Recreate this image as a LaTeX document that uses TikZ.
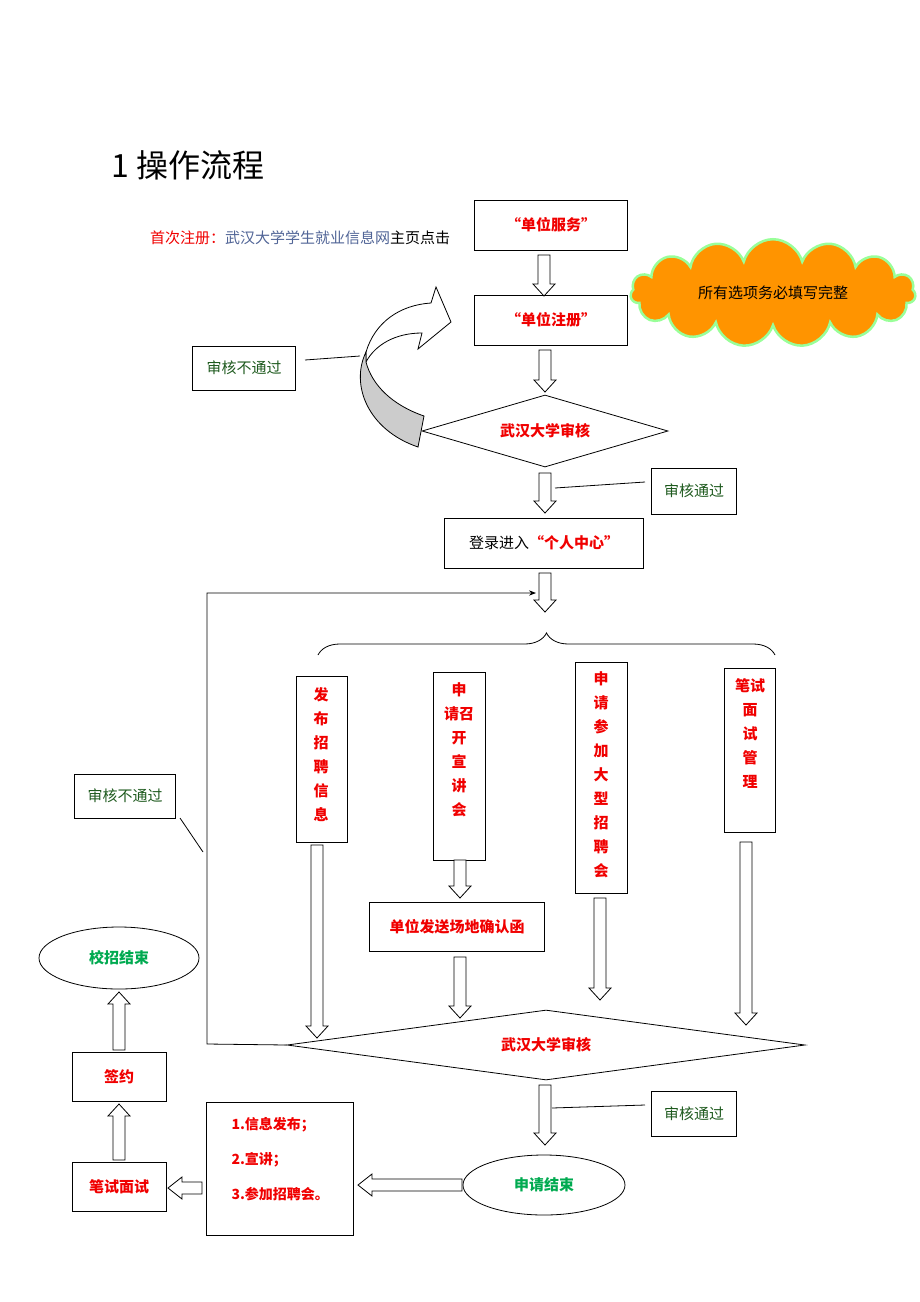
\documentclass[tikz,border=0pt]{standalone}
\usepackage{fontspec}
\setmainfont{Noto Sans CJK SC}
\usetikzlibrary{shapes.geometric,shapes.symbols,decorations.pathreplacing,arrows.meta}
\definecolor{rd}{RGB}{240,0,0}
\definecolor{gr}{RGB}{30,90,30}
\definecolor{bg}{RGB}{0,170,80}
\definecolor{bl}{RGB}{80,100,150}
\newcommand\hdown[3]{\draw[line width=0.8pt,fill=white] (#1-6,#2)--(#1+6,#2)--(#1+6,#3-12)--(#1+11,#3-12)--(#1,#3)--(#1-11,#3-12)--(#1-6,#3-12)--cycle;}
\newcommand\hup[3]{\draw[line width=0.8pt,fill=white] (#1-6,#2)--(#1+6,#2)--(#1+6,#3+12)--(#1+11,#3+12)--(#1,#3)--(#1-11,#3+12)--(#1-6,#3+12)--cycle;}
\newcommand\hleft[3]{\draw[line width=0.8pt,fill=white] (#2,#1-6)--(#2,#1+6)--(#3+14,#1+6)--(#3+14,#1+11)--(#3,#1)--(#3+14,#1-11)--(#3+14,#1-6)--cycle;}
\begin{document}
\begin{tikzpicture}[x=1pt,y=-1pt,
 bx/.style={draw,line width=0.8pt,minimum width=#1,inner sep=2pt},
 t/.style={font=\fontsize{15}{18}\selectfont},
 rb/.style={t,text=rd,font=\fontsize{15}{18}\selectfont\bfseries},
 vb/.style={draw,line width=0.8pt,align=center,text=rd,font=\fontsize{15}{24}\selectfont\bfseries,anchor=north west,inner sep=0pt}]
\useasboundingbox (0,0) rectangle (920,1302);
\node[anchor=west,font=\fontsize{32}{36}\selectfont] (title) at (108,165) {1\ 操作流程};
\node[anchor=west,t,inner sep=0pt] (first) at (150,238) {\textcolor{rd}{首次注册：}\textcolor{bl}{武汉大学学生就业信息网}主页点击};
\node[draw,line width=0.8pt,minimum width=153,minimum height=50,rb] (fw) at (551,225) {“单位服务”};
\node[draw,line width=0.8pt,minimum width=153,minimum height=50,rb] (zc) at (551,320) {“单位注册”};
\node[cloud,cloud puffs=15,aspect=3,draw=green!40!white,line width=2.5pt,fill=orange!80!red!70!yellow,minimum width=285,minimum height=85,t] (cloud) at (773,293) {所有选项务必填写完整};
\node[diamond,draw,line width=0.8pt,aspect=3.4,minimum width=246,minimum height=72,inner sep=0pt,rb] (sh1) at (545,431) {武汉大学审核};
\hdown{544}{255}{296}
\hdown{545}{350}{392}
% curved arrow
\draw[line width=0.8pt,fill=white] (366,352) .. controls (375,322) and (400,305) .. (431,303) -- (436,287) -- (451,322) -- (418,349) -- (422,333) .. controls (395,333) and (375,345) .. (366,362) -- cycle;
\draw[line width=0.8pt,fill=gray!40] (366,352) .. controls (350,385) and (368,430) .. (418,447) -- (424,416) .. controls (392,405) and (372,385) .. (366,362) -- cycle;
\node[draw,line width=0.8pt,minimum width=103,minimum height=44,t,text=gr] (bt1) at (244,368) {审核不通过};
\draw[line width=0.8pt] (305,360) -- (360,356);
\hdown{545}{473}{513}
\node[draw,line width=0.8pt,minimum width=85,minimum height=46,t,text=gr] (tg1) at (694,491) {审核通过};
\draw[line width=0.8pt] (555,488) -- (645,482);
\node[draw,line width=0.8pt,minimum width=199,minimum height=50,t] (dl) at (544,543) {登录进入\textcolor{rd}{\bfseries“个人中心”}};
\hdown{545}{573}{612}
\coordinate (bl) at (318,655); \coordinate (br) at (775,655);
\draw[line width=0.8pt,decorate,decoration={brace,amplitude=22pt}] (bl) -- (br);
\node[vb,minimum width=51,minimum height=166] (fb) at (296,676) {};
\node[rb,align=center,font=\fontsize{15}{24}\selectfont\bfseries,anchor=north] at (321,684) {发\\布\\招\\聘\\信\\息};
\node[vb,minimum width=52,minimum height=188] (xj) at (433,672) {};
\node[rb,align=center,font=\fontsize{15}{24}\selectfont\bfseries,anchor=north] at (459,679) {申\\请召\\开\\宣\\讲\\会};
\node[vb,minimum width=52,minimum height=231] (zp) at (575,662) {};
\node[rb,align=center,font=\fontsize{15}{24}\selectfont\bfseries,anchor=north] at (601,668) {申\\请\\参\\加\\大\\型\\招\\聘\\会};
\node[vb,minimum width=51,minimum height=164] (bs) at (724,668) {};
\node[rb,align=center,font=\fontsize{15}{24}\selectfont\bfseries,anchor=north] at (750,675) {笔试\\面\\试\\管\\理};
\hdown{317}{845}{1038}
\hdown{460}{860}{898}
\node[draw,line width=0.8pt,minimum width=175,minimum height=49,rb] (cd) at (457,927) {单位发送场地确认函};
\hdown{460}{957}{1018}
\hdown{600}{898}{1000}
\hdown{746}{842}{1025}
\node[diamond,draw,line width=0.8pt,aspect=7.4,minimum width=518,minimum height=70,inner sep=0pt,rb] (sh2) at (546,1045) {武汉大学审核};
\coordinate (lp1) at (207,1044); \coordinate (lp2) at (207,593); \coordinate (lp3) at (536,593);
\draw[line width=0.8pt,-{Stealth[length=7pt]}] (sh2.west) -- (lp1) -- (lp2) -- (lp3);
\node[draw,line width=0.8pt,minimum width=101,minimum height=44,t,text=gr] (bt2) at (125,796) {审核不通过};
\draw[line width=0.8pt] (180,818) -- (203,852);
\hdown{545}{1085}{1145}
\node[draw,line width=0.8pt,minimum width=85,minimum height=45,t,text=gr] (tg2) at (694,1114) {审核通过};
\draw[line width=0.8pt] (552,1108) -- (645,1105);
\node[ellipse,draw,line width=0.8pt,minimum width=162,minimum height=60,rb,text=bg] (js) at (544,1185) {申请结束};
\hleft{1185}{462}{358}
\node[draw,line width=0.8pt,minimum width=147,minimum height=133,anchor=north west] (lst) at (206,1102) {};
\node[anchor=north west,rb,align=left,font=\fontsize{14}{35}\selectfont\bfseries] at (228,1114) {1.信息发布；\\2.宣讲；\\3.参加招聘会。};
\hleft{1188}{202}{168}
\node[draw,line width=0.8pt,minimum width=94,minimum height=49,rb] (ms) at (119,1187) {笔试面试};
\hup{119}{1160}{1104}
\node[draw,line width=0.8pt,minimum width=94,minimum height=49,rb] (qy) at (119,1077) {签约};
\hup{119}{1050}{992}
\node[ellipse,draw,line width=0.8pt,minimum width=160,minimum height=62,rb,text=bg] (xz) at (119,958) {校招结束};
\end{tikzpicture}
\end{document}
